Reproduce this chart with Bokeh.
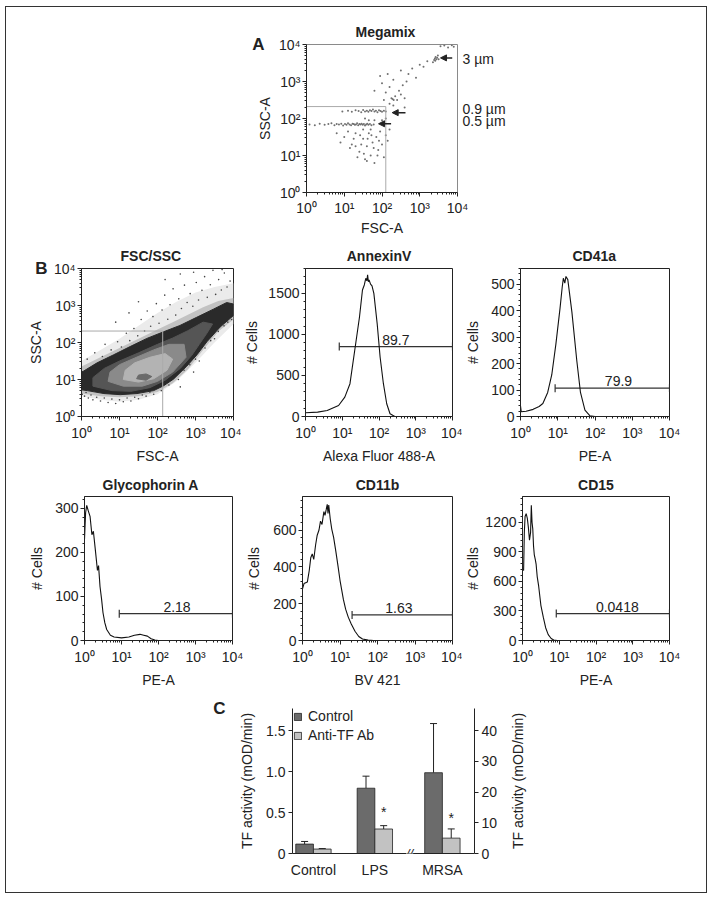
from bokeh.plotting import figure
from bokeh.models import (ColumnDataSource, FixedTicker, SingleIntervalTicker, CustomJSTickFormatter,
                          Label, Whisker, TeeHead, Arrow, NormalHead, Range1d, LinearAxis, LogAxis,
                          Legend, LegendItem)
from bokeh.layouts import row, column
from bokeh.embed import file_html
from bokeh.resources import INLINE

FONT = "Liberation Sans"
INK = "#222222"
FS = "14px"

# ------------------------------------------------------------------ data
decade_ticks = [1, 10, 100, 1000, 10000]

# Panel A - Megamix beads (log10 FSC-A, log10 SSC-A)
band05_x = [0.08,0.22,0.35,0.48,0.58,0.66,0.74,0.80,0.86,0.92,0.97,1.02,1.06,1.10,1.14,1.18,1.22,1.25,1.28,1.31,
            1.34,1.37,1.40,1.43,1.46,1.49,1.52,1.55,1.58,1.61,1.64,1.68,1.72,1.78]
band05_y = [1.84,1.82,1.86,1.83,1.85,1.87,1.82,1.85,1.84,1.86,1.81,1.85,1.83,1.87,1.84,1.82,1.86,1.85,1.83,1.84,
            1.87,1.82,1.85,1.84,1.86,1.83,1.85,1.81,1.84,1.86,1.83,1.85,1.82,1.84]
band09_x = [0.95,1.10,1.20,1.30,1.38,1.45,1.50,1.55,1.60,1.64,1.68,1.72,1.76,1.80,1.84,1.88,1.92,1.96,2.00,2.05,2.10]
band09_y = [2.19,2.21,2.18,2.22,2.20,2.17,2.23,2.19,2.21,2.18,2.22,2.20,2.24,2.19,2.21,2.17,2.22,2.20,2.18,2.21,2.19]
cloud_x = [1.00,1.20,1.30,1.40,1.50,1.55,1.60,1.65,1.70,1.75,1.80,1.85,1.90,1.95,2.00,2.05,2.10,1.45,1.35,1.25,
           1.15,0.90,0.80,1.70,1.50,1.60,1.78,1.88,2.15,2.20,1.42,1.62,1.72,1.52,1.92,1.30,1.10,2.00,1.80,2.10,
           1.55,1.65]
cloud_y = [1.50,1.30,1.60,1.10,1.45,0.90,1.25,1.60,1.00,1.35,0.80,1.50,1.15,1.65,1.30,0.95,1.55,1.30,0.95,1.45,
           1.20,1.35,1.60,1.70,1.70,0.85,1.20,1.00,1.40,1.70,1.55,1.45,1.55,1.05,1.40,1.25,1.65,1.95,1.95,2.00,
           2.00,1.95]
diag_x = [2.20,2.25,2.30,2.35,2.40,2.45,2.50,2.55,2.60,2.65,2.10,2.00,1.95,2.15,2.30,2.70,2.80,2.90,3.00,3.10,
          3.20,2.50,1.80,2.40,2.60,2.05,2.20,2.28,2.31]
diag_y = [2.40,2.55,2.35,2.60,2.50,2.75,2.65,2.90,2.55,3.00,2.70,2.95,3.15,3.20,3.05,3.20,3.35,3.10,3.45,3.40,
          3.55,3.30,2.75,2.20,2.30,2.50,2.85,2.53,2.50]
bead3_x = [3.35,3.38,3.40,3.42,3.44,3.46,3.48,3.41,3.50,3.55,3.65,3.75,3.85,3.90]
bead3_y = [3.52,3.58,3.62,3.66,3.60,3.64,3.70,3.56,3.60,3.95,3.97,3.92,3.98,3.94]
mega_gate = (126, 210)          # FSC, SSC gate corner
bead_labels = ["3 \u00b5m", "0.9 \u00b5m", "0.5 \u00b5m"]
bead_label_ssc = [4030, 183, 83.4]
bead_tip_fsc = [3550, 186, 81]
bead_tip_ssc = [4350, 144, 72]
bead_tail_fsc = [7250, 419, 174]

# Panel B - FSC/SSC density (log10 values)
halo2_x = [0.15,0.35,0.55,0.62,0.78,0.95,1.05,1.18,1.27,1.38,1.48,1.57,1.66,1.73,1.82,1.88,1.97,2.04,2.12,2.19,
           2.27,2.33,2.41,2.48,2.56,2.63,2.71,2.78,2.86,2.93,3.02,3.08,3.17,3.24,3.31,3.39,3.46,3.53,3.61,3.68,
           3.76,3.83,3.91,2.20,1.50,0.90,2.95,1.25,3.70,2.60]
halo2_y = [1.55,1.72,1.62,1.95,1.80,2.02,1.88,2.25,2.05,2.38,2.18,2.62,2.31,2.85,2.44,2.70,3.05,2.52,2.88,3.28,
           2.63,3.02,3.45,2.74,3.18,2.92,3.55,3.08,3.32,2.98,3.62,3.15,3.41,3.78,3.22,3.56,3.95,3.30,3.70,3.42,
           3.88,3.50,3.66,3.70,3.10,2.55,3.90,2.80,3.97,3.85]
low_x = [0.02,0.08,0.12,0.18,0.25,0.30,0.40,0.50,0.60,0.70,0.80,0.90,1.00,1.10,1.20,1.30,1.40,1.50,1.60,1.70,
         1.80,1.90,2.00,2.10,2.20,2.30,2.45,2.55,2.70,2.85,3.00,3.10,3.25,3.40,3.50,3.60,3.75,3.85,3.95,2.95,2.60]
low_y = [0.60,0.55,0.65,0.50,0.58,0.45,0.52,0.42,0.50,0.38,0.47,0.35,0.45,0.40,0.50,0.42,0.52,0.48,0.58,0.55,
         0.66,0.60,0.78,0.70,0.95,0.85,1.10,1.00,1.25,1.40,1.55,1.50,1.85,2.05,2.10,2.30,2.45,2.55,2.62,1.20,0.80]
halo_outer_x = [0.00,0.50,1.00,1.50,2.00,2.50,3.00,3.50,4.00,4.00,3.50,3.00,2.50,2.00,1.50,1.00,0.50,0.00]
halo_outer_y = [0.55,0.45,0.40,0.45,0.60,0.95,1.45,2.00,2.50,3.60,3.50,3.35,3.10,2.80,2.45,2.10,1.80,1.50]
halo_inner_x = [0.00,0.50,1.00,1.50,2.00,2.40,2.80,3.20,3.60,4.00,4.00,3.60,3.20,2.80,2.40,2.00,1.50,1.00,0.50,0.00]
halo_inner_y = [0.62,0.55,0.52,0.55,0.66,0.90,1.28,1.80,2.30,2.62,3.20,3.12,2.95,2.75,2.55,2.35,2.10,1.85,1.60,1.35]
dens_outer_x = [0.00,0.15,0.59,1.02,1.46,1.90,2.16,2.42,2.77,3.04,3.30,3.65,4.00,4.00,3.82,3.47,3.03,2.59,2.16,1.72,1.28,0.85,0.41,0.06,0.00]
dens_outer_y = [0.72,0.70,0.62,0.59,0.62,0.70,0.83,1.01,1.36,1.67,2.02,2.42,2.73,3.04,3.08,2.90,2.68,2.46,2.29,2.11,1.89,1.67,1.45,1.23,1.20]
dens_mid_x = [0.30,0.80,1.30,1.80,2.20,2.60,2.90,3.10,3.30,3.45,3.20,2.80,2.40,2.00,1.50,1.00,0.60,0.30]
dens_mid_y = [0.82,0.70,0.68,0.78,0.98,1.30,1.65,1.95,2.25,2.50,2.55,2.32,2.12,1.95,1.72,1.50,1.30,1.05]
dens_light_x = [0.70,1.10,1.60,2.00,2.40,2.75,2.70,2.30,1.90,1.40,1.00,0.75]
dens_light_y = [0.95,0.82,0.82,0.95,1.20,1.60,1.95,1.95,1.80,1.58,1.40,1.20]
dens_core_x = [1.10,1.50,1.90,2.25,2.40,2.20,1.80,1.40,1.15]
dens_core_y = [1.00,0.93,1.02,1.25,1.55,1.70,1.60,1.45,1.25]
dens_spot_x = [1.45,1.70,1.85,1.70,1.50]
dens_spot_y = [1.02,0.98,1.08,1.15,1.12]
fsc_gate = (137, 204)

# Panel B - histograms (log10 fluorescence, # cells)
annexin_logx = [0.00,0.33,0.59,0.90,1.07,1.21,1.34,1.47,1.55,1.60,1.64,1.67,1.69,1.71,1.73,1.77,1.81,1.86,1.95,
                2.03,2.12,2.21,2.30,2.43,4.00]
annexin_n = [45,53,73,134,236,399,806,1213,1538,1600,1681,1650,1722,1640,1660,1610,1590,1498,1131,
             724,399,155,33,0,0]
cd41a_logx = [0.00,0.02,0.15,0.34,0.50,0.60,0.73,0.84,0.95,1.06,1.12,1.15,1.19,1.22,1.27,1.38,1.51,1.61,1.73,1.86,2.00,4.00]
cd41a_n = [40,18,20,27,38,49,91,158,274,408,490,523,505,530,518,395,213,91,24,3,0,0]
glyco_logx = [0.00,0.03,0.06,0.10,0.15,0.20,0.24,0.30,0.35,0.38,0.42,0.46,0.50,0.55,0.60,0.70,0.80,1.00,1.20,1.35,
              1.50,1.60,1.70,1.80,1.90,2.00,4.00]
glyco_n = [230,290,307,295,282,240,248,200,159,170,122,95,63,40,25,12,8,6,8,12,14,12,10,4,1,0,0]
cd11b_logx = [0.00,0.04,0.13,0.18,0.22,0.26,0.30,0.35,0.39,0.44,0.48,0.52,0.57,0.60,0.63,0.66,0.68,0.70,0.74,0.78,
              0.83,0.89,0.95,1.00,1.09,1.15,1.22,1.30,1.40,1.50,1.60,1.75,1.90,4.00]
cd11b_n = [280,309,318,380,449,470,440,520,570,600,648,630,700,680,709,740,690,735,660,605,
           560,483,400,327,223,170,127,90,50,22,8,2,0,0]
cd15_logx = [0.00,0.03,0.05,0.07,0.10,0.13,0.16,0.19,0.22,0.24,0.26,0.28,0.30,0.32,0.35,0.37,0.40,0.44,0.50,0.57,
             0.63,0.70,0.78,0.85,0.95,4.00]
cd15_n = [720,713,1100,1261,1290,1245,1150,1019,1100,1374,1200,1132,960,874,820,777,650,552,358,229,
          130,60,20,5,0,0]
gate_lo = {"annexin": 8.3, "cd41a": 8.5, "glyco": 8.7, "cd11b": 21.0, "cd15": 8.3}
gate_level = {"annexin": 851, "cd41a": 107, "glyco": 61, "cd11b": 139, "cd15": 274}
gate_pct = {"annexin": "89.7", "cd41a": "79.9", "glyco": "2.18", "cd11b": "1.63", "cd15": "0.0418"}

# Panel C - TF activity
tf_groups = ["Control", "LPS", "MRSA"]
ctrl_left = [0.115, 0.797]          # Control, LPS (left axis, mOD/min)
ctrl_left_sd = [0.032, 0.147]
anti_left = [0.054, 0.299]
anti_left_sd = [0.006, 0.041]
ctrl_mrsa = [26.3]                  # MRSA (right axis, mOD/min)
ctrl_mrsa_sd = [16.0]
anti_mrsa = [5.0]
anti_mrsa_sd = [3.0]

# ------------------------------------------------------------------ helpers
MINOR_LOG = [m * 10 ** k for k in range(4) for m in range(2, 10)]


def sup_formatter():
    return CustomJSTickFormatter(code="""
const s = ["\u2070", "\u00b9", "\u00b2", "\u00b3", "\u2074"];
const e = Math.round(Math.log10(tick));
return "10" + (s[e] ?? "");
""")


def lg(v):
    return [10 ** a for a in v]


def style_axis(ax, label, standoff, lab_standoff=3, color=INK):
    ax.axis_label = label
    ax.axis_label_text_font = FONT
    ax.axis_label_text_font_style = "normal"
    ax.axis_label_text_font_size = FS
    ax.axis_label_text_color = INK
    ax.axis_label_standoff = standoff
    ax.major_label_text_font = FONT
    ax.major_label_text_font_size = FS
    ax.major_label_text_color = INK
    ax.major_label_standoff = lab_standoff
    ax.axis_line_color = color
    ax.major_tick_line_color = INK
    ax.minor_tick_line_color = INK
    ax.major_tick_in = 0
    ax.major_tick_out = 4
    ax.minor_tick_in = 0
    ax.minor_tick_out = 2


def set_title(p, text, standoff, offset=None):
    p.title.text = text
    if offset is None:
        p.title.align = "center"
    else:
        p.title.align = "left"
        p.title.offset = offset
    p.title.text_font = FONT
    p.title.text_font_size = FS
    p.title.text_font_style = "bold"
    p.title.text_color = INK
    p.title.standoff = standoff


def text_axis(p, side, ticks, names, standoff, size=FS, bold=False, log=False, y_range_name="default"):
    Ax = LogAxis if log else LinearAxis
    ax = Ax(ticker=FixedTicker(ticks=ticks, minor_ticks=[]), y_range_name=y_range_name,
            formatter=CustomJSTickFormatter(args=dict(names=names, pos=ticks), code="""
for (let i = 0; i < pos.length; i++) { if (Math.abs(tick - pos[i]) <= 1e-9 * Math.abs(pos[i]) + 1e-9) return names[i]; }
return "";
"""))
    ax.axis_line_color = None
    ax.major_tick_line_color = None
    ax.minor_tick_line_color = None
    ax.major_tick_out = 0
    ax.major_tick_in = 0
    ax.major_label_standoff = standoff
    ax.major_label_text_font = FONT
    ax.major_label_text_font_size = size
    ax.major_label_text_font_style = "bold" if bold else "normal"
    ax.major_label_text_color = INK
    p.add_layout(ax, side)
    return ax


def make_fig(w, h, bl, br, bt, bb, yr, y_log=False):
    p = figure(width=w, height=h, min_border_left=bl, min_border_right=br,
               min_border_top=bt, min_border_bottom=bb,
               x_axis_type="log", y_axis_type="log" if y_log else "linear",
               x_range=Range1d(1, 1e4), y_range=Range1d(*yr),
               output_backend="svg", toolbar_location=None)
    p.grid.visible = False
    p.outline_line_color = INK
    p.border_fill_color = "white"
    p.background_fill_color = "white"
    p.xaxis.ticker = FixedTicker(ticks=decade_ticks, minor_ticks=MINOR_LOG)
    p.xaxis.formatter = sup_formatter()
    if y_log:
        p.yaxis.ticker = FixedTicker(ticks=decade_ticks, minor_ticks=MINOR_LOG)
        p.yaxis.formatter = sup_formatter()
    return p


def histogram(key, w, h, bl, br, bt, bb, ymax, interval, logx, counts, title,
              xlabel, ystand, pct_logx, t_standoff, t_offset=None):
    p = make_fig(w, h, bl, br, bt, bb, (0, ymax))
    p.yaxis.ticker = SingleIntervalTicker(interval=interval, num_minor_ticks=5)
    style_axis(p.xaxis[0], xlabel, 4, 4)
    style_axis(p.yaxis[0], "# Cells", ystand, 2)
    p.line(lg(logx), counts, line_color="#111111", line_width=1.1)
    src = ColumnDataSource(dict(base=[gate_level[key]], lower=[gate_lo[key]], upper=[1e4]))
    p.add_layout(Whisker(source=src, base="base", lower="lower", upper="upper", dimension="width",
                         line_color="#333333", line_width=1.2,
                         lower_head=TeeHead(size=8, line_color="#333333", line_width=1.2),
                         upper_head=TeeHead(size=8, line_color="#333333", line_width=1.2)))
    p.add_layout(Label(x=10 ** pct_logx, y=gate_level[key], text=gate_pct[key], y_offset=2,
                       text_font=FONT, text_font_size=FS, text_align="center",
                       text_baseline="bottom", text_color=INK))
    set_title(p, title, t_standoff, t_offset)
    return p


# ------------------------------------------------------------------ Panel A
pa = make_fig(700, 231, 300, 249, 37, 42, (1, 1e4), y_log=True)
style_axis(pa.xaxis[0], "FSC-A", 1, 3)
style_axis(pa.yaxis[0], "SSC-A", 3, 2)
pa.outline_line_color = "#8a8a8a"
for xs, ys in [(band05_x, band05_y), (band09_x, band09_y), (cloud_x, cloud_y),
               (diag_x, diag_y), (bead3_x, bead3_y)]:
    pa.scatter(lg(xs), lg(ys), size=2.0, color="#707070", line_color=None)
pa.line([1, mega_gate[0], mega_gate[0]], [mega_gate[1], mega_gate[1], 1], line_color="#aaaaaa", line_width=1)
for tx, ty, sx in zip(bead_tip_fsc, bead_tip_ssc, bead_tail_fsc):
    pa.add_layout(Arrow(end=NormalHead(size=6, fill_color=INK, line_color=INK),
                        x_start=sx, y_start=ty, x_end=tx, y_end=ty, line_color=INK, line_width=1.5))
text_axis(pa, "right", bead_label_ssc, bead_labels, 5, log=True)
text_axis(pa, "left", [1e4], ["A"], -11, size="17px", bold=True, log=True)
set_title(pa, "Megamix", 10, 49)

# ------------------------------------------------------------------ Panel B row 1
pf = make_fig(235, 228, 75, 8, 30, 46, (1, 1e4), y_log=True)
style_axis(pf.xaxis[0], "FSC-A", 4, 4)
style_axis(pf.yaxis[0], "SSC-A", 7, 2)
pf.patch(lg(halo_outer_x), lg(halo_outer_y), fill_color="#ebebeb", line_color=None)
pf.patch(lg(halo_inner_x), lg(halo_inner_y), fill_color="#c2c2c2", line_color=None)
for xs, ys in [(halo2_x, halo2_y), (low_x, low_y)]:
    pf.scatter(lg(xs), lg(ys), size=1.6, color="#444444", line_color=None)
for xs, ys, c in [(dens_outer_x, dens_outer_y, "#2a2a2a"), (dens_mid_x, dens_mid_y, "#555555"),
                  (dens_light_x, dens_light_y, "#8a8a8a"), (dens_core_x, dens_core_y, "#b3b3b3"),
                  (dens_spot_x, dens_spot_y, "#6a6a6a")]:
    pf.patch(lg(xs), lg(ys), fill_color=c, line_color=c, line_width=1)
pf.line([1, fsc_gate[0], fsc_gate[0]], [fsc_gate[1], fsc_gate[1], 1], line_color="#aaaaaa", line_width=1)
text_axis(pf, "left", [1e4], ["B"], -23, size="17px", bold=True, log=True)
set_title(pf, "FSC/SSC", 9, 39)

p_ann = histogram("annexin", 221, 228, 58, 10, 30, 46, 1800, 500, annexin_logx, annexin_n,
                  "AnnexinV", "Alexa Fluor 488-A", 5, 2.46, 9)
p_41 = histogram("cd41a", 244, 228, 53, 37, 30, 46, 560, 100, cd41a_logx, cd41a_n,
                 "CD41a", "PE-A", 7, 2.63, 9, 52)

# ------------------------------------------------------------------ Panel B row 2
p_gly = histogram("glyco", 237, 224, 78, 11, 30, 44, 327, 100, glyco_logx, glyco_n,
                  "Glycophorin A", "PE-A", 7, 2.50, 8, 18)
p_11b = histogram("cd11b", 219, 224, 55, 10, 30, 44, 782, 200, cd11b_logx, cd11b_n,
                  "CD11b", "BV 421", 8, 2.57, 8)
p_15 = histogram("cd15", 244, 224, 55, 37, 30, 44, 1464, 300, cd15_logx, cd15_n,
                 "CD15", "PE-A", 1, 2.58, 8)

# ------------------------------------------------------------------ Panel C
pos = [0, 1, 2.1]
half = 0.144
bw = 0.288
pc = figure(width=494, height=202, min_border_left=286, min_border_right=23,
            min_border_top=18, min_border_bottom=39,
            x_range=Range1d(-0.341, 2.623), y_range=Range1d(0, 1.77),
            output_backend="svg", toolbar_location=None)
pc.extra_y_ranges = {"mrsa": Range1d(0, 47.2)}
pc.grid.visible = False
pc.outline_line_color = None
DARK, LIGHT = "#6b6b6b", "#c2c2c2"

src_l = ColumnDataSource(dict(
    xd=[pos[0] - half, pos[1] - half], xl=[pos[0] + half, pos[1] + half],
    ctrl=ctrl_left, ctrl_hi=[m + s for m, s in zip(ctrl_left, ctrl_left_sd)],
    anti=anti_left, anti_hi=[m + s for m, s in zip(anti_left, anti_left_sd)]))
src_r = ColumnDataSource(dict(
    xd=[pos[2] - half], xl=[pos[2] + half],
    ctrl=ctrl_mrsa, ctrl_hi=[m + s for m, s in zip(ctrl_mrsa, ctrl_mrsa_sd)],
    anti=anti_mrsa, anti_hi=[m + s for m, s in zip(anti_mrsa, anti_mrsa_sd)]))

rd = pc.vbar(x="xd", top="ctrl", width=bw, source=src_l, fill_color=DARK, line_color=INK, line_width=0.8)
rl = pc.vbar(x="xl", top="anti", width=bw, source=src_l, fill_color=LIGHT, line_color=INK, line_width=0.8)
pc.vbar(x="xd", top="ctrl", width=bw, source=src_r, fill_color=DARK, line_color=INK, line_width=0.8,
        y_range_name="mrsa")
pc.vbar(x="xl", top="anti", width=bw, source=src_r, fill_color=LIGHT, line_color=INK, line_width=0.8,
        y_range_name="mrsa")
for src, rn in [(src_l, "default"), (src_r, "mrsa")]:
    for b, lo, hi in [("xd", "ctrl", "ctrl_hi"), ("xl", "anti", "anti_hi")]:
        pc.add_layout(Whisker(source=src, base=b, lower=lo, upper=hi, y_range_name=rn,
                              line_color=INK, line_width=1, lower_head=None,
                              upper_head=TeeHead(size=7, line_color=INK, line_width=1)))
pc.add_layout(Label(x=pos[1] + half, y=src_l.data["anti_hi"][1], text="*", y_offset=6,
                    text_font=FONT, text_font_size=FS, text_align="center", text_baseline="bottom",
                    text_color=INK))
pc.add_layout(Label(x=pos[2] + half, y=src_r.data["anti_hi"][0], text="*", y_offset=3,
                    text_font=FONT, text_font_size=FS, text_align="center", text_baseline="bottom",
                    text_color=INK, y_range_name="mrsa"))

style_axis(pc.yaxis[0], "TF activity (mOD/min)", 8, 3)
pc.yaxis[0].ticker = FixedTicker(ticks=[0, 0.5, 1.0, 1.5], minor_ticks=[])
pc.yaxis[0].formatter = CustomJSTickFormatter(code="return tick == 0 ? '0' : tick.toFixed(1);")
ra = LinearAxis(y_range_name="mrsa", ticker=FixedTicker(ticks=[0, 10, 20, 30, 40], minor_ticks=[]))
style_axis(ra, None, 0, 3)
ra.axis_label = None
pc.add_layout(ra, "right")
style_axis(pc.xaxis[0], None, 0, 8)
pc.xaxis[0].axis_label = None
pc.xaxis[0].major_tick_out = 0
pc.xaxis[0].minor_tick_out = 0
pc.xaxis[0].ticker = FixedTicker(ticks=pos, minor_ticks=[])
pc.xaxis[0].formatter = CustomJSTickFormatter(args=dict(names=tf_groups, pos=pos), code="""
for (let i = 0; i < pos.length; i++) { if (Math.abs(tick - pos[i]) < 1e-6) return names[i]; }
return "";
""")
pc.add_layout(Label(x=1.566, y=0, text="//", text_font=FONT, text_font_size="13px",
                    text_font_style="italic", text_align="center", text_baseline="middle",
                    background_fill_color="white", text_color=INK))
legend = Legend(items=[LegendItem(label="Control", renderers=[rd]),
                       LegendItem(label="Anti-TF Ab", renderers=[rl])],
                location=(1, 110), margin=0, padding=0, spacing=3,
                glyph_width=9, glyph_height=9, label_height=14, label_standoff=6,
                label_text_font=FONT, label_text_font_size=FS, label_text_color=INK,
                border_line_color=None, background_fill_alpha=0)
pc.add_layout(legend)
text_axis(pc, "left", [1.765], ["C"], 11, size="17px", bold=True)

# right-hand axis title of panel C (reads bottom-to-top)
pl = figure(width=206, height=202, min_border_left=25, min_border_right=180,
            min_border_top=18, min_border_bottom=39, x_range=Range1d(0, 1), y_range=Range1d(0, 1),
            output_backend="svg", toolbar_location=None, x_axis_location=None)
pl.grid.visible = False
pl.outline_line_color = None
lax = pl.yaxis[0]
lax.ticker = FixedTicker(ticks=[], minor_ticks=[])
lax.axis_line_color = None
lax.major_tick_line_color = None
lax.minor_tick_line_color = None
lax.axis_label = "TF activity (mOD/min)"
lax.axis_label_text_font = FONT
lax.axis_label_text_font_size = FS
lax.axis_label_text_font_style = "normal"
lax.axis_label_text_color = INK
lax.axis_label_standoff = 0

layout = column(pa, row(pf, p_ann, p_41), row(p_gly, p_11b, p_15), row(pc, pl),
                margin=(7, 0, 0, 6), styles={"outline": "1.5px solid #333333"})

open("out.html", "w").write(file_html(layout, INLINE))
